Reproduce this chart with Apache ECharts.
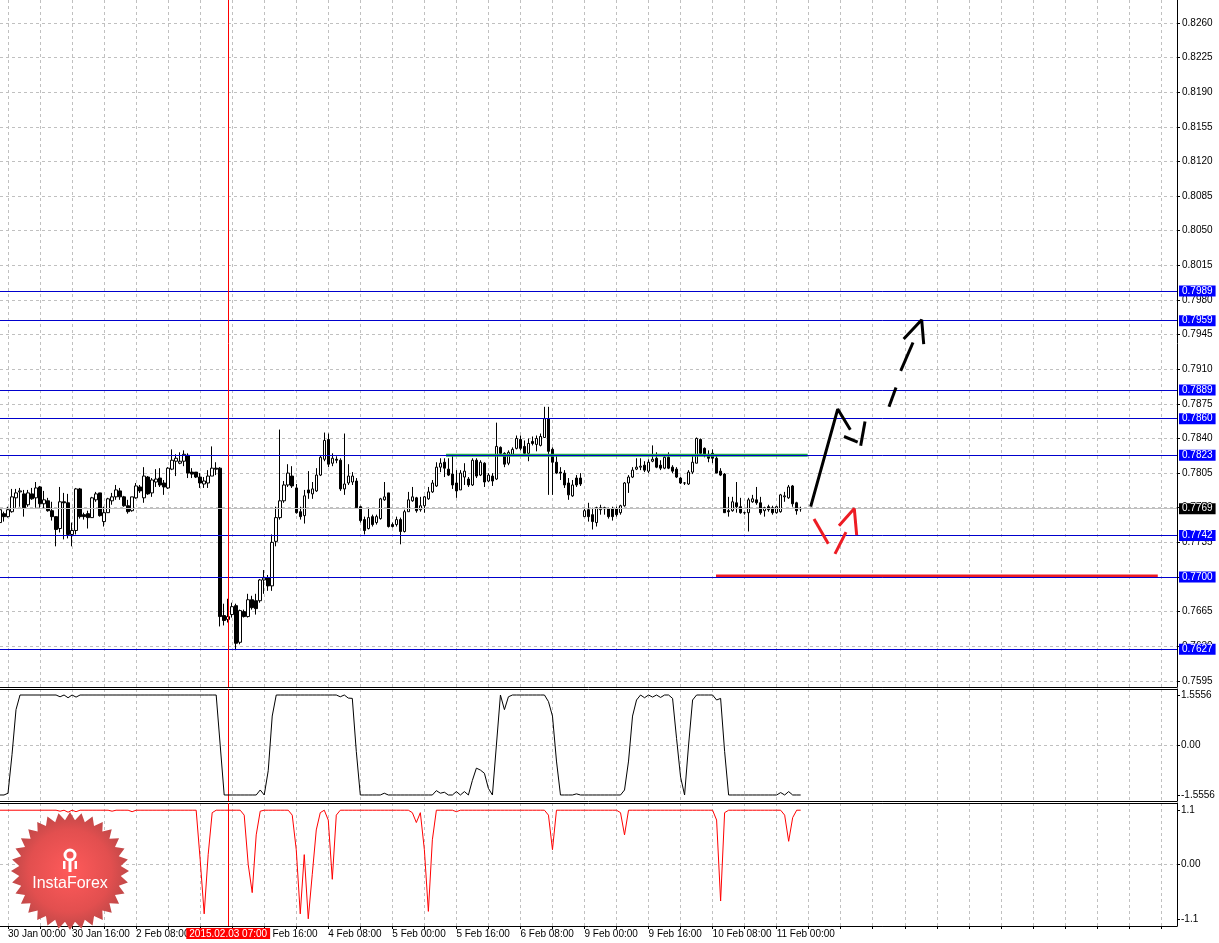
<!DOCTYPE html>
<html><head><meta charset="utf-8">
<script src="https://cdn.jsdelivr.net/npm/echarts@6/dist/echarts.min.js"></script>
<style>html,body{margin:0;padding:0;background:#fff}#c{width:1219px;height:943px}</style>
</head><body><div id="c"></div>
<script>
// ---------- DATA ----------
const opens = [
0.7755,0.7764,0.7761,0.7766,0.7780,0.7786,0.7784,0.7773,0.7784,0.7780,
0.7791,0.7774,0.7777,0.7767,0.7761,0.7749,0.7776,0.7775,0.7743,0.7747,
0.7789,0.7763,0.7764,0.7760,0.7778,0.7785,0.7756,0.7765,0.7777,0.7781,
0.7787,0.7781,0.7772,0.7767,0.7780,0.7791,0.7780,0.7801,0.7785,0.7796,
0.7800,0.7795,0.7790,0.7809,0.7817,0.7815,0.7817,0.7823,0.7806,0.7806,
0.7801,0.7794,0.7795,0.7802,0.7810,0.7810,0.7661,0.7657,0.7662,0.7671,
0.7634,0.7665,0.7660,0.7677,0.7676,0.7676,0.7697,0.7699,0.7691,0.7736,
0.7760,0.7777,0.7793,0.7802,0.7790,0.7766,0.7762,0.7788,0.7784,0.7787,
0.7803,0.7819,0.7839,0.7815,0.7819,0.7818,0.7789,0.7795,0.7796,0.7797,
0.7771,0.7758,0.7749,0.7761,0.7755,0.7759,0.7778,0.7785,0.7753,0.7753,
0.7758,0.7746,0.7766,0.7777,0.7780,0.7768,0.7772,0.7779,0.7786,0.7792,
0.7811,0.7816,0.7809,0.7804,0.7795,0.7788,0.7801,0.7799,0.7793,0.7818,
0.7803,0.7815,0.7797,0.7802,0.7799,0.7831,0.7825,0.7815,0.7824,0.7830,
0.7839,0.7832,0.7825,0.7837,0.7834,0.7833,0.7841,0.7860,0.7829,0.7816,
0.7806,0.7805,0.7795,0.7782,0.7800,0.7800,0.7761,0.7768,0.7763,0.7755,
0.7768,0.7770,0.7769,0.7769,0.7769,0.7765,0.7772,0.7795,0.7801,0.7809,
0.7811,0.7813,0.7807,0.7817,0.7820,0.7813,0.7810,0.7821,0.7811,0.7809,
0.7800,0.7795,0.7794,0.7806,0.7815,0.7839,0.7830,0.7824,0.7825,0.7820,
0.7807,0.7804,0.7767,0.7767,0.7775,0.7771,0.7765,0.7765,0.7776,0.7778,
0.7775,0.7767,0.7771,0.7770,0.7765,0.7766,0.7781,0.7780,0.7792,0.7775,
0.7769];
const highs = [
0.7775,0.7766,0.7771,0.7789,0.7789,0.7790,0.7788,0.7788,0.7790,0.7796,
0.7792,0.7787,0.7780,0.7776,0.7761,0.7791,0.7785,0.7784,0.7755,0.7790,
0.7790,0.7765,0.7767,0.7781,0.7786,0.7785,0.7771,0.7780,0.7785,0.7793,
0.7790,0.7782,0.7778,0.7781,0.7795,0.7793,0.7811,0.7802,0.7800,0.7809,
0.7810,0.7798,0.7811,0.7829,0.7824,0.7826,0.7828,0.7825,0.7810,0.7806,
0.7805,0.7801,0.7808,0.7832,0.7816,0.7811,0.7673,0.7678,0.7674,0.7673,
0.7667,0.7667,0.7683,0.7681,0.7683,0.7698,0.7707,0.7702,0.7743,0.7771,
0.7849,0.7797,0.7814,0.7812,0.7794,0.7771,0.7788,0.7807,0.7796,0.7810,
0.7823,0.7846,0.7845,0.7825,0.7822,0.7820,0.7845,0.7814,0.7806,0.7800,
0.7772,0.7761,0.7770,0.7763,0.7763,0.7780,0.7796,0.7785,0.7755,0.7761,
0.7760,0.7768,0.7786,0.7791,0.7781,0.7781,0.7782,0.7791,0.7798,0.7816,
0.7820,0.7820,0.7820,0.7823,0.7808,0.7808,0.7815,0.7801,0.7820,0.7820,
0.7818,0.7816,0.7805,0.7805,0.7856,0.7832,0.7826,0.7828,0.7831,0.7843,
0.7843,0.7838,0.7840,0.7842,0.7843,0.7845,0.7872,0.7872,0.7831,0.7823,
0.7811,0.7808,0.7800,0.7798,0.7803,0.7805,0.7770,0.7775,0.7770,0.7771,
0.7773,0.7771,0.7770,0.7771,0.7771,0.7773,0.7796,0.7803,0.7811,0.7820,
0.7820,0.7817,0.7819,0.7833,0.7826,0.7818,0.7823,0.7826,0.7813,0.7811,
0.7801,0.7796,0.7808,0.7823,0.7841,0.7840,0.7831,0.7828,0.7829,0.7823,
0.7810,0.7805,0.7781,0.7781,0.7796,0.7780,0.7766,0.7780,0.7783,0.7791,
0.7781,0.7771,0.7773,0.7772,0.7772,0.7784,0.7786,0.7793,0.7793,0.7776,
0.7771];
const lows = [
0.7754,0.7756,0.7760,0.7765,0.7770,0.7771,0.7761,0.7771,0.7778,0.7770,
0.7770,0.7769,0.7766,0.7757,0.7731,0.7745,0.7738,0.7739,0.7731,0.7743,
0.7759,0.7758,0.7749,0.7760,0.7776,0.7761,0.7751,0.7765,0.7773,0.7778,
0.7778,0.7771,0.7764,0.7766,0.7779,0.7785,0.7775,0.7783,0.7781,0.7791,
0.7791,0.7783,0.7789,0.7808,0.7802,0.7814,0.7812,0.7800,0.7800,0.7800,
0.7790,0.7790,0.7790,0.7802,0.7803,0.7650,0.7651,0.7654,0.7659,0.7626,
0.7632,0.7659,0.7659,0.7667,0.7662,0.7674,0.7683,0.7686,0.7686,0.7731,
0.7758,0.7775,0.7791,0.7790,0.7764,0.7758,0.7754,0.7779,0.7779,0.7786,
0.7802,0.7817,0.7811,0.7812,0.7815,0.7787,0.7783,0.7793,0.7793,0.7769,
0.7755,0.7743,0.7748,0.7751,0.7753,0.7758,0.7777,0.7750,0.7750,0.7751,
0.7733,0.7745,0.7766,0.7776,0.7765,0.7766,0.7765,0.7778,0.7785,0.7791,
0.7806,0.7801,0.7802,0.7789,0.7780,0.7788,0.7793,0.7791,0.7792,0.7800,
0.7802,0.7791,0.7796,0.7792,0.7798,0.7824,0.7811,0.7813,0.7823,0.7829,
0.7828,0.7823,0.7817,0.7833,0.7827,0.7832,0.7841,0.7783,0.7783,0.7804,
0.7798,0.7790,0.7778,0.7781,0.7791,0.7792,0.7761,0.7756,0.7748,0.7751,
0.7763,0.7763,0.7759,0.7757,0.7761,0.7763,0.7771,0.7785,0.7800,0.7808,
0.7808,0.7806,0.7805,0.7816,0.7810,0.7808,0.7809,0.7809,0.7805,0.7800,
0.7794,0.7793,0.7793,0.7804,0.7815,0.7824,0.7821,0.7816,0.7815,0.7805,
0.7802,0.7765,0.7761,0.7766,0.7765,0.7764,0.7763,0.7746,0.7775,0.7773,
0.7763,0.7761,0.7766,0.7763,0.7764,0.7765,0.7776,0.7779,0.7771,0.7763,
0.7766];
const closes = [
0.7768,0.7761,0.7768,0.7781,0.7785,0.7787,0.7770,0.7785,0.7779,0.7790,
0.7774,0.7778,0.7767,0.7761,0.7748,0.7776,0.7775,0.7743,0.7747,0.7789,
0.7761,0.7761,0.7760,0.7780,0.7784,0.7762,0.7765,0.7779,0.7781,0.7788,
0.7781,0.7772,0.7766,0.7781,0.7792,0.7787,0.7802,0.7784,0.7798,0.7799,
0.7793,0.7791,0.7810,0.7818,0.7820,0.7817,0.7824,0.7805,0.7804,0.7801,
0.7795,0.7797,0.7802,0.7810,0.7809,0.7660,0.7656,0.7660,0.7670,0.7633,
0.7666,0.7660,0.7677,0.7669,0.7668,0.7697,0.7699,0.7691,0.7735,0.7760,
0.7777,0.7793,0.7805,0.7792,0.7765,0.7761,0.7782,0.7785,0.7789,0.7803,
0.7821,0.7838,0.7814,0.7820,0.7818,0.7789,0.7794,0.7802,0.7802,0.7770,
0.7757,0.7747,0.7760,0.7753,0.7761,0.7779,0.7781,0.7751,0.7751,0.7758,
0.7746,0.7766,0.7778,0.7781,0.7767,0.7772,0.7781,0.7786,0.7795,0.7811,
0.7815,0.7810,0.7803,0.7793,0.7787,0.7805,0.7807,0.7793,0.7818,0.7802,
0.7816,0.7796,0.7803,0.7797,0.7832,0.7825,0.7814,0.7826,0.7829,0.7840,
0.7830,0.7825,0.7835,0.7835,0.7840,0.7842,0.7860,0.7827,0.7816,0.7805,
0.7805,0.7793,0.7783,0.7793,0.7793,0.7794,0.7767,0.7761,0.7756,0.7770,
0.7770,0.7769,0.7761,0.7761,0.7763,0.7772,0.7795,0.7801,0.7808,0.7811,
0.7812,0.7808,0.7816,0.7819,0.7811,0.7810,0.7821,0.7810,0.7807,0.7801,
0.7795,0.7795,0.7806,0.7816,0.7840,0.7825,0.7824,0.7820,0.7820,0.7805,
0.7803,0.7765,0.7766,0.7776,0.7771,0.7765,0.7765,0.7778,0.7779,0.7775,
0.7765,0.7770,0.7768,0.7765,0.7771,0.7783,0.7782,0.7791,0.7774,0.7767,
0.7769];
const osc1 = [
-1.5556,-1.5556,-1.50,-0.30,1.10,1.5556,1.5556,1.5556,1.5556,1.5556,
1.5556,1.5556,1.5556,1.5556,1.5556,1.50,1.5556,1.47,1.5556,1.49,
1.5556,1.5556,1.5556,1.5556,1.5556,1.5556,1.5556,1.5556,1.5556,1.5556,
1.5556,1.5556,1.5556,1.5556,1.5556,1.5556,1.5556,1.5556,1.5556,1.5556,
1.5556,1.5556,1.5556,1.5556,1.5556,1.5556,1.5556,1.5556,1.5556,1.5556,
1.5556,1.5556,1.5556,1.5556,1.5556,0.00,-1.5556,-1.5556,-1.5556,-1.5556,
-1.5556,-1.5556,-1.5556,-1.5556,-1.5556,-1.40,-1.5556,-0.80,0.90,1.5556,
1.5556,1.5556,1.5556,1.5556,1.5556,1.5556,1.5556,1.5556,1.5556,1.5556,
1.5556,1.5556,1.5556,1.5556,1.5556,1.50,1.5556,1.46,1.45,-0.20,
-1.5556,-1.5556,-1.5556,-1.5556,-1.5556,-1.5556,-1.50,-1.5556,-1.5556,-1.5556,
-1.5556,-1.5556,-1.5556,-1.5556,-1.5556,-1.5556,-1.5556,-1.5556,-1.5556,-1.42,
-1.50,-1.47,-1.5556,-1.5556,-1.45,-1.5556,-1.45,-1.5556,-1.10,-0.72,
-0.78,-0.88,-1.35,-1.5556,0.00,1.5556,1.10,1.50,1.5556,1.5556,
1.5556,1.5556,1.5556,1.5556,1.5556,1.5556,1.5556,1.35,0.90,-0.50,
-1.5556,-1.5556,-1.5556,-1.5556,-1.52,-1.5556,-1.5556,-1.5556,-1.5556,-1.5556,
-1.5556,-1.5556,-1.5556,-1.5556,-1.5556,-1.5556,-1.40,-0.50,0.90,1.40,
1.5556,1.47,1.5556,1.49,1.5556,1.48,1.5556,1.5556,1.45,0.20,
-1.00,-1.5556,0.00,1.40,1.5556,1.5556,1.5556,1.5556,1.5556,1.40,
1.45,-0.20,-1.5556,-1.5556,-1.5556,-1.5556,-1.5556,-1.5556,-1.5556,-1.5556,
-1.5556,-1.5556,-1.5556,-1.5556,-1.5556,-1.48,-1.5556,-1.45,-1.5556,-1.5556,
-1.5556];
const osc2 = [
1.1,1.1,1.1,1.1,1.1,1.1,1.1,1.1,1.1,1.1,
1.1,1.1,1.1,1.1,1.1,1.08,1.1,1.06,1.1,1.07,
1.1,1.1,1.1,1.1,1.1,1.1,1.1,1.1,1.08,1.1,
1.1,1.1,1.1,1.07,1.1,1.1,1.1,1.1,1.1,1.1,
1.1,1.1,1.1,1.1,1.1,1.1,1.1,1.1,1.1,1.1,
0.1,-1.0,0.2,1.05,1.1,1.1,1.1,1.1,1.1,1.1,
1.1,1.0,0.0,-0.57,0.6,1.08,1.1,1.1,1.1,1.1,
1.1,1.1,1.1,1.0,0.3,-1.0,0.2,-1.1,-0.2,0.7,
1.05,1.1,0.9,-0.3,1.0,1.1,1.1,1.1,1.1,1.1,
1.1,1.1,1.1,1.1,1.1,1.1,1.1,1.1,1.1,1.1,
1.1,1.1,1.1,1.05,0.85,1.05,0.3,-0.95,0.5,1.1,
1.1,1.1,1.1,1.1,1.07,1.1,1.1,1.1,1.1,1.1,
1.1,1.1,1.1,1.1,1.1,1.1,1.1,1.1,1.1,1.1,
1.1,1.1,1.1,1.1,1.1,1.1,1.1,1.0,0.3,1.1,
1.1,1.1,1.1,1.1,1.1,1.1,1.1,1.1,1.1,1.1,
1.1,1.1,1.1,1.1,1.1,1.05,0.6,1.1,1.1,1.1,
1.1,1.1,1.1,1.1,1.1,1.1,1.1,1.1,1.1,1.1,
1.1,1.1,1.1,1.1,1.1,1.1,1.1,1.1,1.1,0.9,
-0.74,1.05,1.1,1.1,1.1,1.1,1.1,1.1,1.1,1.1,
1.1,1.1,1.1,1.1,1.1,1.1,1.0,0.47,0.95,1.1,
1.1];
const timeLabels = ["30 Jan 00:00","30 Jan 16:00","2 Feb 08:00","3 Feb 00:00","3 Feb 16:00","4 Feb 08:00","5 Feb 00:00","5 Feb 16:00","6 Feb 08:00","9 Feb 00:00","9 Feb 16:00","10 Feb 08:00","11 Feb 00:00"];
const firstLabelBar = 2, barsPerLabel = 16, barsPerGrid = 8, totalSlots = 295;
const priceTicks = [0.7595,0.7630,0.7665,0.7700,0.7735,0.7770,0.7805,0.7840,0.7875,0.7910,0.7945,0.7980,0.8015,0.8050,0.8085,0.8120,0.8155,0.8190,0.8225,0.8260];
const osc1Ticks = [-1.5556, 0, 1.5556];
const osc2Ticks = [-1.1, 0, 1.1];
const levels = [0.7989, 0.7959, 0.7889, 0.7860, 0.7823, 0.7742, 0.7700, 0.7627];
const lastPrice = 0.7769;
const crossBar = 57;
const crossLabel = "2015.02.03 07:00";
const greenLevel = {from: 111.4, to: 201.75, price: 0.7823};
const redLevel = {from: 178.85, to: 289.2, price: 0.7701};
const blackStrokes = [
  [[202.50,0.77712],[209.25,0.78697],[212.40,0.78488]],
  [[210.82,0.78420],[214.24,0.78363]],
  [[214.99,0.78326],[216.07,0.78572]],
  [[222.06,0.78720],[223.81,0.78915]],
  [[224.98,0.79084],[228.06,0.79370]],
  [[225.73,0.79405],[230.23,0.79600],[230.73,0.79354]]
];
const redStrokes = [
  [[203.33,0.77585],[206.90,0.77335]],
  [[208.57,0.77234],[211.32,0.77454]],
  [[209.57,0.77517],[213.39,0.77692],[213.99,0.77423]]
];

// ---------- CHART ----------
const FONT = 'Liberation Sans';
const cats = Array.from({length: totalSlots}, (_, i) => String(i));
const candles = opens.map((o, i) => [o, closes[i], lows[i], highs[i]]);
const gridLineFn = (idx) => (idx - firstLabelBar) % barsPerGrid === 0;
const labelFn = (idx) => (idx - firstLabelBar) % barsPerLabel === 0;
const dash = () => ({color: '#c0c0c0', type: [3, 3], width: 1});

function catAxis(gridIndex, extra) {
  return Object.assign({
    type: 'category', gridIndex, data: cats, boundaryGap: false,
    axisLine: {show: true, onZero: false, lineStyle: {color: '#000', width: 1}},
    axisTick: {show: false}, axisLabel: {show: false},
    splitLine: {show: true, interval: gridLineFn, lineStyle: dash()}
  }, extra || {});
}
function topAxis(gridIndex) {
  return {type: 'category', gridIndex, data: cats, boundaryGap: false, position: 'top',
    axisLine: {show: true, onZero: false, lineStyle: {color: '#000'}}, axisTick: {show: false},
    axisLabel: {show: false}, splitLine: {show: false}};
}
const labelStyle = {fontSize: 10, color: '#000', fontFamily: FONT};

const levelLines = levels.map(v => ({
  yAxis: v, lineStyle: {color: '#0000cd', width: 1, type: 'solid'},
  label: {show: true, position: 'end', distance: 2, formatter: p => p.value.toFixed(4),
    backgroundColor: '#0000ff', color: '#fff', padding: [1, 3, 0, 3], fontSize: 10, fontFamily: FONT}
}));
levelLines.push({
  yAxis: lastPrice, lineStyle: {color: '#c0c0c0', width: 1, type: 'solid'},
  label: {show: true, position: 'end', distance: 2, formatter: p => p.value.toFixed(4),
    backgroundColor: '#000', color: '#fff', padding: [1, 3, 0, 3], fontSize: 10, fontFamily: FONT}
});
const crossLine = () => ({xAxis: crossBar, lineStyle: {color: '#ff0000', width: 1, type: 'solid'}, label: {show: false}});
const zeroLine = () => ({yAxis: 0, lineStyle: {color: '#c0c0c0', width: 1, type: [3, 3]}, label: {show: false}});
levelLines.push(crossLine());

const strokeSeries = [];
blackStrokes.forEach(s => strokeSeries.push({type: 'line', xAxisIndex: 1, yAxisIndex: 0, data: s,
  symbol: 'none', lineStyle: {color: '#000', width: 3}, silent: true, z: 5}));
redStrokes.forEach(s => strokeSeries.push({type: 'line', xAxisIndex: 1, yAxisIndex: 0, data: s,
  symbol: 'none', lineStyle: {color: '#ed1c24', width: 3}, silent: true, z: 5}));
strokeSeries.push({type: 'line', xAxisIndex: 1, yAxisIndex: 0,
  data: [[greenLevel.from, greenLevel.price], [greenLevel.to, greenLevel.price]],
  symbol: 'none', lineStyle: {color: '#22b14c', width: 3}, silent: true, z: 4});
strokeSeries.push({type: 'line', xAxisIndex: 1, yAxisIndex: 0,
  data: [[redLevel.from, redLevel.price], [redLevel.to, redLevel.price]],
  symbol: 'none', lineStyle: {color: '#ed1c24', width: 3}, silent: true, z: 4});

// logo decoration
const star = [];
for (let k = 0; k < 64; k++) {
  const r = k % 2 ? 51 : 59, a = k * Math.PI / 32;
  star.push([70 + r * Math.cos(a), 871 + r * Math.sin(a)]);
}

const chart = echarts.init(document.getElementById('c'), null, {renderer: 'canvas'});
chart.setOption({
  animation: false,
  backgroundColor: '#fff',
  grid: [
    {left: 0, width: 1177, top: 0, height: 687},
    {left: 0, width: 1177, top: 689, height: 112},
    {left: 0, width: 1177, top: 803, height: 123}
  ],
  xAxis: [
    catAxis(0),
    {type: 'value', gridIndex: 0, min: 0, max: totalSlots - 1, show: false},
    catAxis(1),
    topAxis(1),
    catAxis(2, {
      axisTick: {show: true, interval: gridLineFn, length: 3, lineStyle: {color: '#000'}},
      axisLabel: Object.assign({show: true, interval: labelFn, align: 'left', margin: 3,
        formatter: (v, idx) => timeLabels[(idx - firstLabelBar) / barsPerLabel] || ''}, labelStyle)
    }),
    topAxis(2)
  ],
  yAxis: [
    {type: 'value', gridIndex: 0, position: 'right', min: 0.75888, max: 0.82832,
      axisLine: {show: true, onZero: false, lineStyle: {color: '#000'}},
      axisTick: {show: true, length: 3, customValues: priceTicks, lineStyle: {color: '#000'}},
      axisLabel: Object.assign({customValues: priceTicks, formatter: v => v.toFixed(4), margin: 5}, labelStyle),
      splitLine: {show: true, lineStyle: dash()}},
    {type: 'value', gridIndex: 1, position: 'right', min: -1.7423, max: 1.7423,
      axisLine: {show: true, onZero: false, lineStyle: {color: '#000'}},
      axisTick: {show: true, length: 3, customValues: osc1Ticks, lineStyle: {color: '#000'}},
      axisLabel: Object.assign({customValues: osc1Ticks, formatter: v => v === 0 ? '0.00' : v.toFixed(4), margin: 4}, labelStyle),
      splitLine: {show: false}},
    {type: 'value', gridIndex: 2, position: 'right', min: -1.246, max: 1.246,
      axisLine: {show: true, onZero: false, lineStyle: {color: '#000'}},
      axisTick: {show: true, length: 3, customValues: osc2Ticks, lineStyle: {color: '#000'}},
      axisLabel: Object.assign({customValues: osc2Ticks, formatter: v => v === 0 ? '0.00' : v.toFixed(1), margin: 4}, labelStyle),
      splitLine: {show: false}}
  ],
  series: [
    {type: 'candlestick', xAxisIndex: 0, yAxisIndex: 0, data: candles, barWidth: 3, silent: true,
      itemStyle: {color: '#ffffff', color0: '#000000', borderColor: '#000000', borderColor0: '#000000', borderWidth: 1},
      markLine: {symbol: ['none', 'none'], silent: true, animation: false, precision: 4, data: levelLines}},
    ...strokeSeries,
    {type: 'line', xAxisIndex: 2, yAxisIndex: 1, data: osc1, symbol: 'none', silent: true,
      lineStyle: {color: '#000', width: 1}, z: 3,
      markLine: {symbol: ['none', 'none'], silent: true, z: 1,
        lineStyle: {color: '#c0c0c0', type: [3, 3], width: 1},
        data: [zeroLine(), crossLine()]}},
    {type: 'line', xAxisIndex: 4, yAxisIndex: 2, data: osc2, symbol: 'none', silent: true,
      lineStyle: {color: '#ff0000', width: 1}, z: 3,
      markLine: {symbol: ['none', 'none'], silent: true, z: 1,
        lineStyle: {color: '#c0c0c0', type: [3, 3], width: 1},
        data: [zeroLine(),
        {xAxis: crossBar, lineStyle: {color: '#ff0000', width: 1, type: 'solid'},
          label: {show: true, position: 'start', distance: 2, formatter: crossLabel,
            backgroundColor: '#ff0000', color: '#fff', padding: [1, 3, 0, 3], fontSize: 10, fontFamily: FONT}}]}}
  ],
  graphic: [
    {type: 'polygon', z: 100, shape: {points: star}, silent: true,
      style: {fill: new echarts.graphic.RadialGradient(0.5, 0.5, 0.5, [
        {offset: 0, color: '#ff5a5a'}, {offset: 0.7, color: '#e24f4f'}, {offset: 1, color: '#c04848'}])}},
    {type: 'circle', z: 101, shape: {cx: 70, cy: 855, r: 5}, silent: true,
      style: {fill: 'none', stroke: '#fff', lineWidth: 3}},
    {type: 'rect', z: 101, shape: {x: 68.5, y: 860, width: 3, height: 12}, silent: true, style: {fill: '#fff'}},
    {type: 'rect', z: 101, shape: {x: 63, y: 861, width: 2.5, height: 8}, silent: true, style: {fill: '#fff'}},
    {type: 'rect', z: 101, shape: {x: 74.5, y: 861, width: 2.5, height: 8}, silent: true, style: {fill: '#fff'}},
    {type: 'text', z: 101, x: 70, y: 884, silent: true,
      style: {text: 'InstaForex', fill: '#fff', font: '16px "Liberation Sans"', textAlign: 'center', textVerticalAlign: 'middle'}}
  ]
});
</script>
</body></html>
